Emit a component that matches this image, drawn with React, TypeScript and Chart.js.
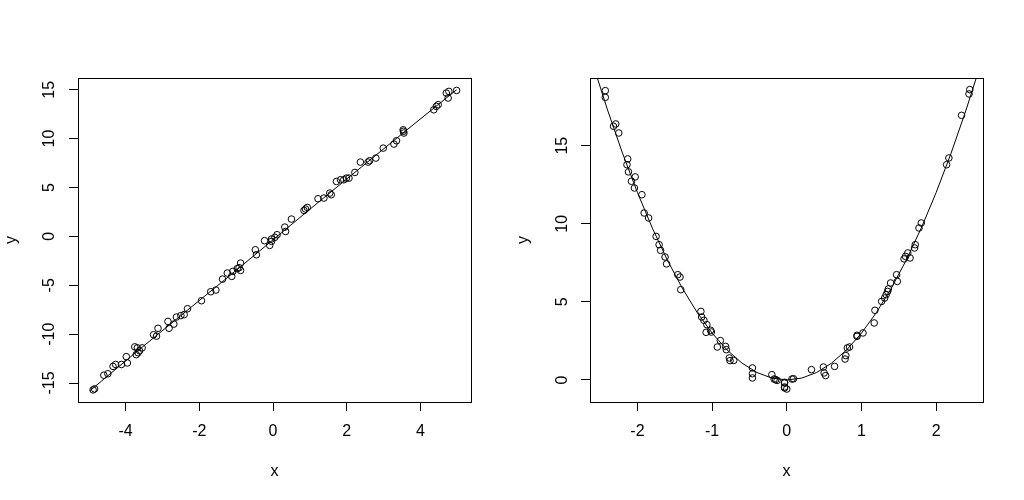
import React, { useEffect, useRef } from "react";
import { Chart, registerables } from "chart.js";

Chart.register(...registerables);

// Left panel: linear relation
const leftX = [
  -4.84, -4.88, -4.59, -4.48, -4.34, -4.27, -4.11, -3.98, -3.95, -3.75, -3.71, -3.68, -3.62, -3.55, -3.66,
  -3.24, -3.16, -3.12, -2.85, -2.82, -2.69, -2.62, -2.5, -2.41, -2.32, -1.94, -1.69, -1.55, -1.37, -1.24,
  -1.12, -1.09, -0.97, -0.92, -0.88, -0.88, -0.45, -0.48, -0.23, -0.09, -0.04, -0.04, 0.05, 0.11, 0.32,
  0.34, 0.5, 0.84, 0.93, 0.88, 1.22, 1.38, 1.54, 1.58, 1.72, 1.83, 1.92, 1.99, 2.06, 2.22, 2.37, 2.58,
  2.62, 2.79, 2.99, 3.28, 3.35, 3.53, 3.55, 3.54, 4.36, 4.43, 4.48, 4.7, 4.75, 4.98, 4.77,
];
const leftY = [
  -15.6, -15.7, -14.2, -14.05, -13.3, -13.1, -13.1, -12.3, -12.95, -11.3, -12.1, -11.4, -11.7, -11.4, -11.9,
  -10.06, -10.2, -9.4, -8.7, -9.4, -8.97, -8.25, -8.1, -8.0, -7.4, -6.58, -5.66, -5.49, -4.37, -3.75,
  -4.09, -3.58, -3.3, -3.2, -2.73, -3.48, -1.88, -1.37, -0.44, -0.92, -0.51, -0.27, -0.1, 0.17, 0.95,
  0.5, 1.77, 2.65, 2.96, 2.8, 3.85, 3.92, 4.43, 4.26, 5.62, 5.79, 5.79, 5.96, 5.96, 6.54, 7.6, 7.6,
  7.74, 8.01, 9.03, 9.44, 9.78, 10.9, 10.57, 10.75, 12.95, 13.3, 13.47, 14.66, 14.15, 14.93, 14.83,
];
const leftLineX = [-4.97, -3.7, -2.5, -1.2, 0, 1.2, 2.4, 3.6, 4.98];
const leftLineY = [-15.8, -11.8, -8.1, -4.1, -0.35, 3.4, 7.1, 10.8, 15.0];

// Right panel: quadratic relation
const rightX = [
  -2.43, -2.43, -2.32, -2.29, -2.25, -2.13, -2.14, -2.12, -2.03, -2.08, -2.04, -1.94, -1.91, -1.85, -1.75,
  -1.71, -1.69, -1.63, -1.61, -1.46, -1.43, -1.42, -1.15, -1.14, -1.11, -1.07, -1.08, -1.02, -1.01, -0.89,
  -0.93, -0.82, -0.81, -0.77, -0.76, -0.71, -0.46, -0.46, -0.46, -0.2, -0.17, -0.15, -0.13, -0.03, -0.03,
  -0.03, 0.0, -0.03, 0.07, 0.09, 0.33, 0.49, 0.5, 0.52, 0.64, 0.79, 0.78, 0.81, 0.84, 0.94, 0.94, 1.02,
  1.17, 1.18, 1.27, 1.31, 1.33, 1.35, 1.36, 1.39, 1.47, 1.48, 1.57, 1.59, 1.62, 1.65, 1.71, 1.72, 1.77,
  1.8, 2.14, 2.17, 2.34, 2.44, 2.45,
];
const rightY = [
  18.52, 18.09, 16.24, 16.39, 15.81, 14.15, 13.78, 13.32, 13.0, 12.72, 12.29, 11.86, 10.69, 10.37, 9.19,
  8.66, 8.3, 7.87, 7.43, 6.74, 6.59, 5.78, 4.39, 4.03, 3.82, 3.54, 3.05, 3.18, 3.07, 2.52,
  2.11, 2.15, 1.94, 1.41, 1.24, 1.25, 0.77, 0.4, 0.13, 0.34, 0.06, 0.02, -0.03, -0.15, -0.51,
  -0.19, -0.58, -0.45, 0.06, 0.08, 0.66, 0.83, 0.45, 0.28, 0.87, 1.56, 1.34, 2.05, 2.11, 2.79, 2.86, 3.01,
  3.65, 4.46, 5.03, 5.25, 5.46, 5.67, 5.83, 6.21, 6.74, 6.31, 7.75, 7.91, 8.13, 7.81, 8.45, 8.66, 9.73,
  10.05, 13.78, 14.21, 16.94, 18.31, 18.59,
];
const rightCurveX = [
  -2.6, -2.4, -2.2, -2.0, -1.8, -1.6, -1.4, -1.2, -1.0, -0.8, -0.6, -0.4, -0.2, 0,
  0.2, 0.4, 0.6, 0.8, 1.0, 1.2, 1.4, 1.6, 1.8, 2.0, 2.2, 2.4, 2.6,
];
const rightCurveY = [
  20.28, 17.28, 14.52, 12.0, 9.72, 7.68, 5.88, 4.32, 3.0, 1.92, 1.08, 0.48, 0.12, 0,
  0.12, 0.48, 1.08, 1.92, 3.0, 4.32, 5.88, 7.68, 9.72, 12.0, 14.52, 17.28, 20.28,
];

const FONT = { family: "'Liberation Sans', Arial, sans-serif", size: 16 };

const boxPlugin = {
  id: "rbox",
  afterDraw(chart: any) {
    const { ctx, chartArea: a } = chart;
    ctx.save();
    ctx.strokeStyle = "#000";
    ctx.lineWidth = 1;
    ctx.strokeRect(
      Math.round(a.left) + 0.5,
      Math.round(a.top) + 0.5,
      Math.round(a.right - a.left),
      Math.round(a.bottom - a.top)
    );
    ctx.restore();
  },
};

function zip(xs: number[], ys: number[]) {
  return xs.map((x, i) => ({ x, y: ys[i] }));
}

function makeConfig(
  px: number[], py: number[], lx: number[], ly: number[],
  xmin: number, xmax: number, xstep: number,
  ymin: number, ymax: number, ystep: number, yPad: number
): any {
  const grid = {
    display: true,
    drawOnChartArea: false,
    drawTicks: true,
    tickLength: 9,
    color: "#000",
    lineWidth: 1,
  };
  return {
    type: "scatter",
    data: {
      datasets: [
        {
          data: zip(lx, ly),
          showLine: true,
          borderColor: "#000",
          borderWidth: 1,
          pointRadius: 0,
          fill: false,
          tension: 0,
        },
        {
          data: zip(px, py),
          pointRadius: 3.3,
          pointBorderWidth: 1,
          borderColor: "#000",
          backgroundColor: "rgba(0,0,0,0)",
          pointStyle: "circle",
        },
      ],
    },
    options: {
      responsive: false,
      animation: false,
      devicePixelRatio: 1,
      layout: { padding: { left: 0, right: 41, top: 78, bottom: 0 } },
      plugins: { legend: { display: false }, tooltip: { enabled: false } },
      scales: {
        x: {
          type: "linear",
          min: xmin,
          max: xmax,
          afterFit: (s: any) => { s.height = 98; },
          border: { display: false },
          grid,
          ticks: {
            stepSize: xstep,
            includeBounds: false,
            minRotation: 0,
            maxRotation: 0,
            padding: 11,
            font: FONT,
            color: "#000",
          },
          title: {
            display: true,
            text: "x",
            font: FONT,
            color: "#000",
            padding: { top: 0, bottom: 19 },
          },
        },
        y: {
          type: "linear",
          min: ymin,
          max: ymax,
          afterFit: (s: any) => { s.width = 78; },
          border: { display: false },
          grid,
          ticks: {
            stepSize: ystep,
            includeBounds: false,
            minRotation: 90,
            maxRotation: 90,
            crossAlign: "center",
            padding: yPad,
            font: FONT,
            color: "#000",
          },
          title: {
            display: true,
            text: "y",
            font: FONT,
            color: "#000",
            padding: { top: 2.4, bottom: 0 },
          },
        },
      },
    },
    plugins: [boxPlugin],
  };
}

function Panel(props: { config: any; left: number }) {
  const ref = useRef<HTMLCanvasElement | null>(null);
  useEffect(() => {
    if (!ref.current) return;
    const chart = new Chart(ref.current, props.config);
    return () => chart.destroy();
  }, []);
  return (
    <div style={{ position: "absolute", left: props.left, top: 0, width: 512, height: 500 }}>
      <canvas ref={ref} width={512} height={500} style={{ width: 512, height: 500, display: "block" }} />
    </div>
  );
}

export default function App() {
  const leftCfg = makeConfig(leftX, leftY, leftLineX, leftLineY, -5.29, 5.37, 2, -16.94, 16.2, 5, 7.5);
  const rightCfg = makeConfig(rightX, rightY, rightCurveX, rightCurveY, -2.635, 2.627, 1, -1.41, 19.33, 5, 10);
  return (
    <div style={{ position: "fixed", left: 0, top: 0, width: 1024, height: 500, background: "#fff" }}>
      <Panel config={leftCfg} left={0} />
      <Panel config={rightCfg} left={512} />
    </div>
  );
}
